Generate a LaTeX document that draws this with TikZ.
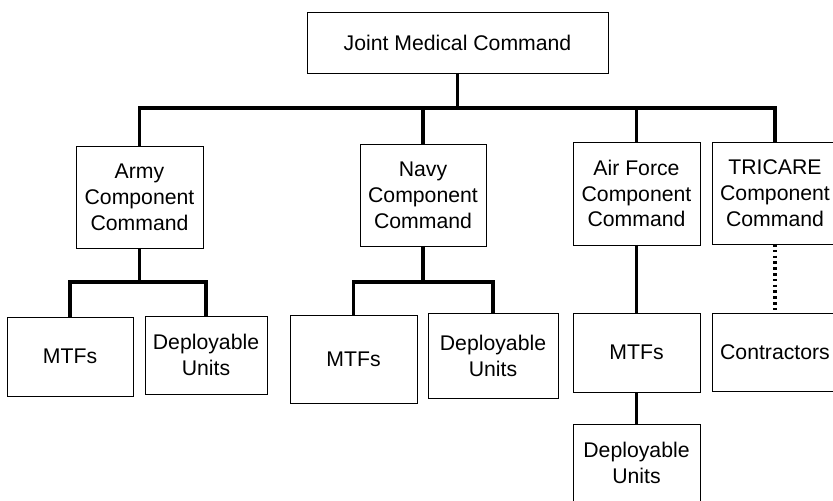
\documentclass[tikz,border=0pt]{standalone}
\usepackage{fontspec}
\setmainfont{Liberation Sans}
\begin{document}
\begin{tikzpicture}[x=1bp,y=-1bp,
  box/.style={draw, line width=0.9bp, inner sep=0pt, outer sep=0pt, align=center,
    font=\fontsize{21.3}{26}\selectfont},
  link/.style={line width=3.6bp},
  dotlink/.style={line width=3.2bp, dash pattern=on 2.6bp off 3.2bp}]
\useasboundingbox (0,0) rectangle (833,501);
\clip (0,0) rectangle (833,501);
\fill[white] (0,0) rectangle (833,501);
% top
\node[box, minimum width=301bp, minimum height=61bp] (jmc) at (457.5,42.5) {Joint Medical Command};
% component commands
\node[box, minimum width=127bp, minimum height=102bp] (army) at (139.5,197) {Army\\Component\\Command};
\node[box, minimum width=126bp, minimum height=102bp] (navy) at (423,195) {Navy\\Component\\Command};
\node[box, minimum width=127bp, minimum height=103bp] (af) at (636.5,193.5) {Air Force\\Component\\Command};
\node[box, minimum width=126bp, minimum height=102bp] (tri) at (775,193) {TRICARE\\Component\\Command};
% lower level
\node[box, minimum width=126bp, minimum height=79bp] (armymtf) at (70,356.5) {MTFs};
\node[box, minimum width=122bp, minimum height=78bp] (armydep) at (206,355) {Deployable\\Units};
\node[box, minimum width=127bp, minimum height=88bp] (navymtf) at (353.5,359) {MTFs};
\node[box, minimum width=130bp, minimum height=85bp] (navydep) at (493,355.5) {Deployable\\Units};
\node[box, minimum width=127bp, minimum height=79bp] (afmtf) at (636.5,352.5) {MTFs};
\node[box, minimum width=126bp, minimum height=78bp] (contr) at (775,352) {Contractors};
\node[box, minimum width=127bp, minimum height=86bp] (afdep) at (636.5,467) {};
\node[font=\fontsize{21.3}{26}\selectfont, align=center] (afdeptext) at (636.5,463) {Deployable\\Units};
% connectors
\coordinate (bus) at (457.5,108);
\coordinate (armybus) at (139.5,282);
\coordinate (navybus) at (423,282);
\draw[link] (jmc.south) -- (bus);
\draw[link] (army.north) |- (bus);
\draw[link] (navy.north) |- (bus);
\draw[link] (af.north) |- (bus);
\draw[link] (tri.north) |- (bus);
\draw[link] (army.south) -- (armybus);
\draw[link] (armymtf.north) |- (armybus);
\draw[link] (armydep.north) |- (armybus);
\draw[link] (navy.south) -- (navybus);
\draw[link] (navymtf.north) |- (navybus);
\draw[link] (navydep.north) |- (navybus);
\draw[link] (af.south) -- (afmtf.north);
\draw[link] (afmtf.south) -- (afdep.north);
\draw[dotlink] (tri.south) -- (contr.north);
\end{tikzpicture}
\end{document}
